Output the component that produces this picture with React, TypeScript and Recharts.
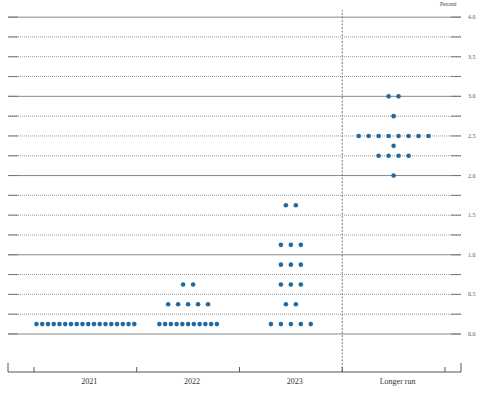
import { ScatterChart, Scatter, XAxis, YAxis, ReferenceLine } from "recharts";

const CATEGORIES = ["2021", "2022", "2023", "Longer run"];

const RATES_2021 = [0.125];
const COUNTS_2021 = [18];
const RATES_2022 = [0.125, 0.375, 0.625];
const COUNTS_2022 = [11, 5, 2];
const RATES_2023 = [0.125, 0.375, 0.625, 0.875, 1.125, 1.625];
const COUNTS_2023 = [5, 2, 3, 3, 3, 2];
const RATES_LR = [2.0, 2.25, 2.375, 2.5, 2.75, 3.0];
const COUNTS_LR = [1, 4, 1, 8, 1, 2];

const Y_TICKS = [0, 0.5, 1, 1.5, 2, 2.5, 3, 3.5, 4];
const GRID = [0, 0.25, 0.5, 0.75, 1, 1.25, 1.5, 1.75, 2, 2.25, 2.5, 2.75, 3, 3.25, 3.5, 3.75, 4];

const X_MIN = -0.253;
const X_MAX = 4.156;
const Y_MIN = -0.48;
const Y_MAX = 4.09;
const GAP = 0.097;
const DENSE_GAP = 0.056;
const STUB = 0.097;
const DOT = "#1f6aa5";

const ROWS = [
  [RATES_2021, COUNTS_2021],
  [RATES_2022, COUNTS_2022],
  [RATES_2023, COUNTS_2023],
  [RATES_LR, COUNTS_LR],
];

// spread each row's dots around the category centre
const dots: { x: number; y: number }[] = [];
ROWS.forEach(([rates, counts], cat) => {
  rates.forEach((rate, r) => {
    const n = counts[r];
    const gap = n > 8 ? DENSE_GAP : GAP;
    for (let i = 0; i < n; i++) {
      dots.push({ x: cat + 0.5 + (i - (n - 1) / 2) * gap, y: rate });
    }
  });
});

const BOUNDS = [0, 1, 2, 3, 4];
const CENTERS = CATEGORIES.map((_, i) => i + 0.5);
const X_TICKS = [X_MIN, ...BOUNDS, ...CENTERS, X_MAX].sort((a, b) => a - b);

const XTick = (props: any) => {
  const { x, y, payload } = props;
  const v = payload.value;
  const ci = CENTERS.indexOf(v);
  if (ci >= 0) {
    return (
      <text x={x + 4} y={y + 12} textAnchor="middle" fontSize={8} fill="#333" fontFamily="Liberation Serif">
        {CATEGORIES[ci]}
      </text>
    );
  }
  const h = v === X_MIN || v === X_MAX ? 9 : 5;
  return <line x1={x} x2={x} y1={y - h} y2={y} stroke="#555" strokeWidth={1} />;
};

const YTick = (props: any) => {
  const { x, y, payload } = props;
  return (
    <text x={x + 7} y={y} dy={2} textAnchor="start" fontSize={6} fill="#555" fontFamily="Liberation Serif">
      {payload.value.toFixed(1)}
    </text>
  );
};

export default function App() {
  return (
    <div style={{ position: "absolute", left: 0, top: 0, width: 482, height: 393 }}>
      <div
        style={{
          position: "absolute",
          left: 440,
          top: 1,
          fontSize: 5.5,
          fontFamily: "Liberation Serif",
          color: "#333",
        }}
      >
        Percent
      </div>
      <ScatterChart width={482} height={393} margin={{ top: 10, right: 0, left: 8, bottom: 0 }}>
        <XAxis
          type="number"
          dataKey="x"
          domain={[X_MIN, X_MAX]}
          ticks={X_TICKS}
          interval={0}
          height={21}
          tickSize={0}
          tickMargin={0}
          tickLine={false}
          axisLine={{ stroke: "#555" }}
          tick={<XTick />}
          allowDataOverflow
        />
        <YAxis
          type="number"
          dataKey="y"
          orientation="right"
          domain={[Y_MIN, Y_MAX]}
          ticks={Y_TICKS}
          interval={0}
          width={21}
          tickSize={0}
          tickMargin={0}
          tickLine={false}
          axisLine={false}
          tick={<YTick />}
          allowDataOverflow
        />
        {GRID.map((v) => (
          <ReferenceLine
            key={"g" + v}
            y={v}
            stroke={Number.isInteger(v) ? "#888" : "#999"}
            strokeDasharray={Number.isInteger(v) ? undefined : "1 1"}
          />
        ))}
        {GRID.map((v) => (
          <ReferenceLine
            key={"l" + v}
            segment={[{ x: X_MIN, y: v }, { x: X_MIN + STUB, y: v }]}
            stroke="#777"
          />
        ))}
        {GRID.map((v) => (
          <ReferenceLine
            key={"r" + v}
            segment={[{ x: X_MAX - STUB, y: v }, { x: X_MAX, y: v }]}
            stroke="#777"
          />
        ))}
        <ReferenceLine x={3} stroke="#777" strokeDasharray="2 1.5" />
        <Scatter
          data={dots}
          isAnimationActive={false}
          shape={(p: any) => <circle cx={p.cx} cy={p.cy} r={2.3} fill={DOT} />}
        />
      </ScatterChart>
    </div>
  );
}
